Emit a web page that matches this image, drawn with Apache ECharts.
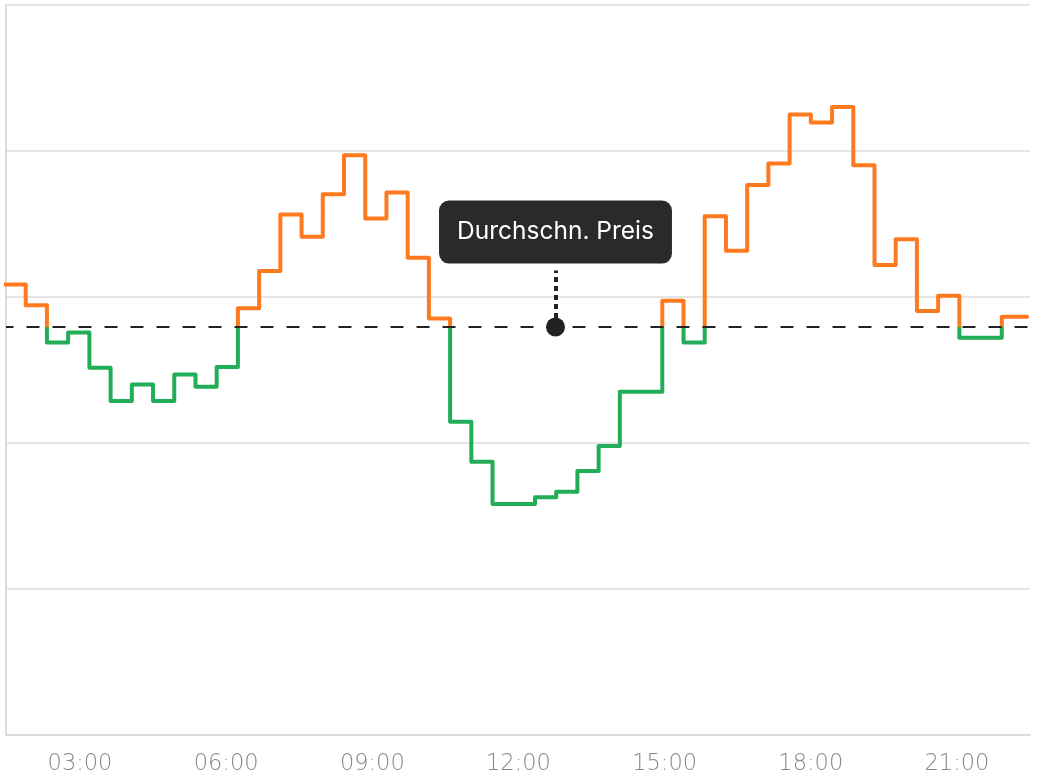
<!DOCTYPE html>
<html>
<head>
<meta charset="utf-8">
<script src="https://cdn.jsdelivr.net/npm/echarts@6/dist/echarts.min.js"></script>
<style>
  html, body { margin: 0; padding: 0; background: #ffffff; }
  #chart { width: 1040px; height: 780px; }
</style>
</head>
<body>
<div id="chart"></div>
<script>
// ---- data ----
// price per slot (ct/kWh), one value per step
const prices = [30.85, 29.43, 26.88, 27.56, 25.14, 22.86, 24.00, 22.86, 24.69, 23.84,
                25.19, 29.21, 31.76, 35.64, 34.11, 37.03, 39.70, 35.37, 37.15, 32.67,
                28.52, 21.44, 18.71, 15.82, 15.82, 16.27, 16.65, 18.07, 19.78, 23.50,
                23.50, 29.73, 26.88, 35.52, 33.15, 37.65, 39.13, 42.48, 41.94, 43.00,
                39.01, 32.17, 33.95, 29.03, 30.07, 27.19, 27.19, 28.63];
const slotStartHour = 1.4503;    // start of first slot (hours)
const slotLengthHour = 0.43555;  // slot length (hours)
const lastSlotEndHour = 22.44;
const averagePrice = 27.93;
const averageLabel = 'Durchschn. Preis';
const annotationHour = 12.76;
const annotationTop = 31.8;
const tickHours = [3, 6, 9, 12, 15, 18, 21];
const xMinHour = 1.481, xMaxHour = 22.5;
const yMin = 0, yMax = 50, yInterval = 10;

const ORANGE = '#ff7a1f';
const GREEN = '#22ad57';

const seriesData = prices.map((p, i) => [slotStartHour + i * slotLengthHour, p]);
seriesData.push([lastSlotEndHour, prices[prices.length - 1]]);

const chart = echarts.init(document.getElementById('chart'), null, { renderer: 'canvas' });
chart.setOption({
  animation: false,
  backgroundColor: '#ffffff',
  grid: { left: 6, right: 10, top: 4.7, bottom: 45, containLabel: false },
  xAxis: {
    type: 'value',
    min: xMinHour,
    max: xMaxHour,
    axisLine: { show: true, lineStyle: { color: '#dcdcdc', width: 2 } },
    axisTick: { show: false },
    splitLine: { show: false },
    axisLabel: {
      customValues: tickHours,
      formatter: v => String(Math.round(v)).padStart(2, '0') + ':00',
      color: '#888888',
      fontFamily: 'DejaVu Sans',
      fontWeight: 200,
      fontSize: 22.5,
      margin: 18
    }
  },
  yAxis: {
    type: 'value',
    min: yMin,
    max: yMax,
    interval: yInterval,
    axisLine: { show: true, lineStyle: { color: '#dcdcdc', width: 2 } },
    axisTick: { show: false },
    axisLabel: { show: false },
    splitLine: { show: true, lineStyle: { color: '#dcdcdc', width: 1.5 } }
  },
  visualMap: {
    show: false,
    type: 'piecewise',
    dimension: 1,
    seriesIndex: 0,
    pieces: [
      { gt: averagePrice, lte: 1000, color: ORANGE },
      { gte: -1000, lte: averagePrice, color: GREEN }
    ],
    outOfRange: { color: ORANGE }
  },
  series: [{
    type: 'line',
    step: 'end',
    data: seriesData,
    showSymbol: false,
    symbol: 'none',
    lineStyle: { width: 4, cap: 'round', join: 'round' },
    markLine: {
      silent: true,
      symbol: ['none', 'none'],
      label: { show: false },
      animation: false,
      data: [
        { yAxis: averagePrice, lineStyle: { color: '#222222', width: 2, type: [13, 13], dashOffset: 5.5 } },
        [
          { coord: [annotationHour, averagePrice], lineStyle: { color: '#222222', width: 4, type: [5, 4] } },
          { coord: [annotationHour, annotationTop] }
        ]
      ]
    },
    markPoint: {
      silent: true,
      animation: false,
      data: [{
        coord: [annotationHour, averagePrice],
        symbol: 'circle',
        symbolSize: 19,
        itemStyle: { color: '#222222' },
        label: {
          show: true,
          formatter: averageLabel,
          position: 'inside',
          offset: [0, -95],
          color: '#ffffff',
          fontFamily: 'Inter',
          fontSize: 24.5,
          lineHeight: 29,
          backgroundColor: '#2a2a2c',
          borderRadius: 10,
          padding: [17, 18]
        }
      }]
    }
  }]
});
</script>
</body>
</html>
